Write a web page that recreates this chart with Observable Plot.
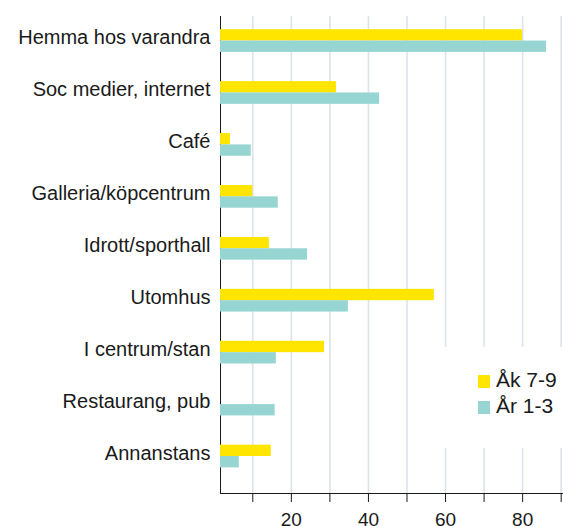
<!DOCTYPE html>
<html>
<head>
<meta charset="utf-8">
<script src="https://cdn.jsdelivr.net/npm/d3@7"></script>
<script src="https://cdn.jsdelivr.net/npm/@observablehq/plot@0.6"></script>
<style>
  html, body { margin: 0; padding: 0; background: #fff; }
  #wrap { position: relative; width: 563px; height: 526px; overflow: hidden; font-family: "Liberation Sans", Arial, sans-serif; }
  #wrap svg g[aria-label^="y-axis"] text { font-size: 20px; }
  #legend { position: absolute; left: 430px; top: 347px; width: 133px; height: 101px; background: #fff; }
  .item { position: absolute; left: 48px; font-size: 21px; color: #1a1a1a; line-height: 1; white-space: nowrap; }
  .sw { display: inline-block; width: 12px; height: 13px; margin-right: 6px; vertical-align: -1px; }
</style>
</head>
<body>
<div id="wrap"></div>
<script>
const categories = ["Hemma hos varandra", "Soc medier, internet", "Café", "Galleria/köpcentrum", "Idrott/sporthall", "Utomhus", "I centrum/stan", "Restaurang, pub", "Annanstans"];
const ak79 = [80, 31.7, 4.2, 10.0, 14.3, 57.1, 28.6, 0, 14.8];
const ar13 = [86.2, 42.9, 9.6, 16.6, 24.2, 34.8, 16.1, 15.8, 6.5];
const seriesNames = ["Åk 7-9", "År 1-3"];
const seriesColors = ["#ffe500", "#96d5d2"];
const gridTicks = [10, 20, 30, 40, 50, 60, 70, 80, 90];
const tickLabels = [20, 40, 60, 80];
const xDomain = [1.62, 90.6];

const xmin = xDomain[0];
const rows = categories.map((c, i) => ({cat: c, ak: ak79[i], ar: ar13[i]}));
const half = 11.35;

const chart = Plot.plot({
  width: 563,
  height: 526,
  marginLeft: 220,
  marginRight: 0,
  marginTop: 16,
  marginBottom: 33,
  style: {fontFamily: "'Liberation Sans', Arial, sans-serif", fontSize: "19px", background: "white", color: "#1a1a1a"},
  x: {domain: xDomain, ticks: gridTicks, tickFormat: d => tickLabels.includes(d) ? String(d) : "", tickSize: 9, tickPadding: 10, line: true, label: null},
  y: {domain: categories, round: false, paddingInner: 0.563, paddingOuter: 0.374, align: 0.34, tickSize: 0, tickPadding: 10, line: true, label: null},
  marks: [
    Plot.ruleX(gridTicks, {stroke: "#dde3ec", strokeWidth: 1.6}),
    Plot.barX(rows, {y: "cat", x1: () => xmin, x2: d => Math.max(d.ak, xmin), fill: seriesColors[0], insetBottom: half}),
    Plot.barX(rows, {y: "cat", x1: () => xmin, x2: d => Math.max(d.ar, xmin), fill: seriesColors[1], insetTop: half})
  ]
});
d3.select(chart).selectAll('g[aria-label^="y-axis"] text').attr("dy", "-0.17em");
const wrap = document.getElementById("wrap");
wrap.appendChild(chart);

const legend = document.createElement("div");
legend.id = "legend";
seriesNames.forEach((name, i) => {
  const it = document.createElement("div");
  it.className = "item";
  it.style.top = (22 + i * 26) + "px";
  const sw = document.createElement("span");
  sw.className = "sw";
  sw.style.background = seriesColors[i];
  it.appendChild(sw);
  it.appendChild(document.createTextNode(name));
  legend.appendChild(it);
});
wrap.appendChild(legend);
</script>
</body>
</html>
